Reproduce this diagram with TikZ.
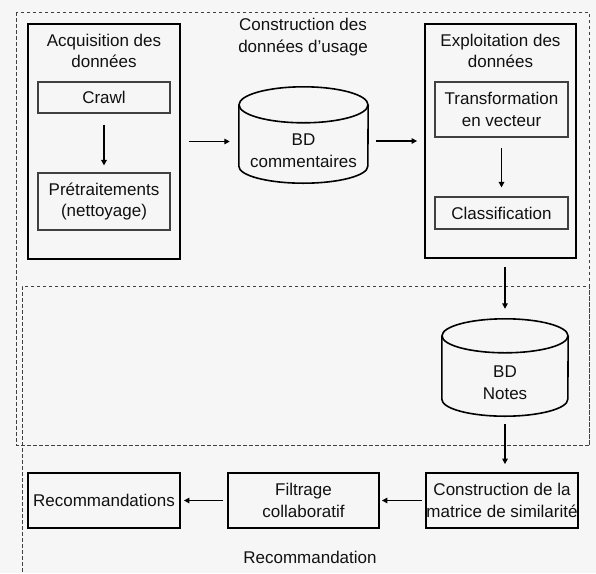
\documentclass[tikz,border=0pt]{standalone}
\usepackage{fontspec}
\setmainfont{Liberation Sans}
\usetikzlibrary{arrows.meta}
\definecolor{bgc}{HTML}{F6F6F6}
\definecolor{txt}{HTML}{111111}
\tikzset{
  outerbox/.style={draw=black, line width=1.8pt, minimum width=#1},
  innerbox/.style={draw=black!75, line width=1.1pt, minimum width=#1},
  lbl/.style={align=center, text=txt, font=\fontsize{17}{21.5}\selectfont, inner sep=0pt},
  zone/.style={draw=black!75, line width=0.9pt, dash pattern=on 3.5pt off 2.5pt},
  arr/.style={-{Triangle[length=5.5pt,width=5.5pt]}, line width=1.7pt, black},
  cyl/.style={draw=black, line width=1.6pt},
}
\begin{document}
\begin{tikzpicture}[x=1pt,y=-1pt]
\fill[bgc] (0,0) rectangle (596,573);
\useasboundingbox (0,0) rectangle (596,573);
% zones
\draw[zone] (16,12) rectangle (589,445);
\draw[zone] (589,445) -- (589,286) -- (22,286) -- (22,580);
\node[lbl] (zt1) at (303,37) {Construction des\\données d'usage};
\node[lbl] (zt2) at (310,557) {Recommandation};
% acquisition
\node[outerbox=152pt, minimum height=235pt] (acq) at (104,141.5) {};
\node[lbl] (acqt) at (104,51) {Acquisition des\\données};
\node[innerbox=132pt, minimum height=31pt, lbl] (crawl) at (104,97.5) {Crawl};
\node[innerbox=132pt, minimum height=57pt, lbl] (pret) at (104,201.5) {Prétraitements\\(nettoyage)};
% BD commentaires
\node[minimum width=129pt, minimum height=96pt, inner sep=0pt] (bd1) at (303.5,135) {};
\draw[cyl] ([yshift=-18pt]bd1.north) ellipse[x radius=64.5pt, y radius=18pt];
\draw[cyl] ([yshift=-18pt]bd1.north west) -- ([yshift=17pt]bd1.south west)
  arc[start angle=180, end angle=360, x radius=64.5pt, y radius=17pt] -- ([yshift=-18pt]bd1.north east);
\node[lbl] (bd1t) at (303.5,150.5) {BD\\commentaires};
% exploitation
\node[outerbox=151pt, minimum height=234pt] (exp) at (500.5,141) {};
\node[lbl] (expt) at (500.5,51) {Exploitation des\\données};
\node[innerbox=133pt, minimum height=55pt, lbl] (trans) at (501.5,109.5) {Transformation\\en vecteur};
\node[innerbox=133pt, minimum height=32pt, lbl] (classif) at (501.5,213) {Classification};
% BD Notes
\node[minimum width=126pt, minimum height=97pt, inner sep=0pt] (notes) at (505,367.5) {};
\draw[cyl] ([yshift=-17pt]notes.north) ellipse[x radius=63pt, y radius=17pt];
\draw[cyl] ([yshift=-17pt]notes.north west) -- ([yshift=17pt]notes.south west)
  arc[start angle=180, end angle=360, x radius=63pt, y radius=17pt] -- ([yshift=-17pt]notes.north east);
\node[lbl] (notest) at (505,382.5) {BD\\Notes};
% bottom row
\node[outerbox=152pt, minimum height=55pt, lbl] (mat) at (502,500.5) {Construction de la\\matrice de similarité};
\node[outerbox=151pt, minimum height=55pt, lbl] (filt) at (303.5,500.5) {Filtrage\\collaboratif};
\node[outerbox=152pt, minimum height=55pt, lbl] (rec) at (104,500.5) {Recommandations};
% arrows
\draw[arr, shorten <=11pt, shorten >=7pt] (crawl) -- (pret);
\draw[arr, shorten <=8pt, shorten >=9pt] (acq.east) -- (bd1.west |- acq.east);
\draw[arr, shorten <=8pt, shorten >=7pt] (bd1.east |- exp.west) -- (exp.west);
\draw[arr, shorten <=10pt, shorten >=9pt] (trans) -- (classif);
\draw[arr, shorten <=8pt, shorten >=10pt] (notes.north |- exp.south) -- (notes.north);
\draw[arr, shorten <=8pt, shorten >=8pt] (notes.south) -- (notes.south |- mat.north);
\draw[arr, shorten <=3pt, shorten >=2pt] (mat.west) -- (filt.east);
\draw[arr, shorten <=4pt, shorten >=3pt] (filt.west) -- (rec.east);
\end{tikzpicture}
\end{document}
